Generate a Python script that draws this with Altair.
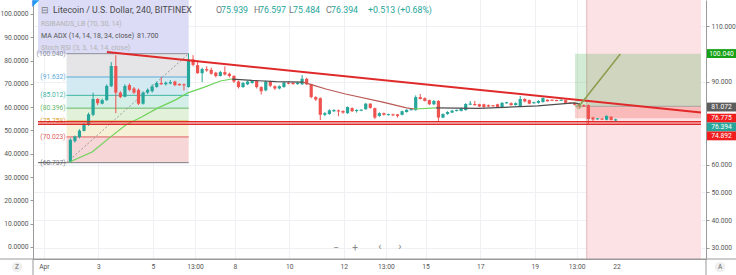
import json
import altair as alt
import pandas as pd

FONT = "Roboto"

# ---------------- data ----------------
# 4-hour candles, day = days since Apr 1 00:00
first_candle_day = 0.97
candle_step_days = 1 / 6

candle_open = [61.0, 68.5, 70.0, 72.2, 74.3, 78.0, 83.7, 82.0, 83.3, 88.3,
               95.6, 86.0, 84.5, 88.7, 87.5, 87.0, 82.0, 86.0, 86.5, 88.0,
               89.5, 89.0, 89.3, 90.0, 89.0, 89.0, 88.0, 98.0, 95.9, 93.0,
               94.5, 94.2, 93.2, 92.0, 93.4, 92.8, 92.0, 90.0, 88.0, 89.0,
               89.5, 90.3, 88.0, 86.8, 90.0, 88.3, 87.5, 88.0, 89.6, 89.4,
               89.2, 89.0, 91.0, 89.0, 84.4, 84.0, 78.0, 78.3, 79.4, 79.6,
               79.4, 78.6, 80.4, 79.5, 79.6, 80.0, 82.0, 80.4, 77.6, 78.6,
               78.0, 78.2, 78.0, 78.0, 79.0, 79.8, 79.7, 84.4, 84.0, 83.3,
               81.8, 83.0, 77.0, 78.3, 78.8, 79.5, 79.4, 79.7, 81.8, 81.9,
               81.8, 81.8, 81.5, 81.3, 81.8, 80.6, 82.3, 82.2, 81.5, 81.0,
               83.7, 83.3, 82.3, 82.3, 82.6, 83.3, 83.3, 83.2, 83.2, 83.3,
               82.3, 82.3, 81.8, 81.5, 81.5, 77.0, 76.5, 76.5, 76.2, 77.3,
               75.939]
candle_high = [69.5, 70.5, 72.8, 75.0, 78.8, 86.0, 84.0, 83.8, 89.0, 97.0,
               99.5, 86.5, 89.0, 89.3, 88.0, 87.5, 86.5, 87.5, 89.0, 90.0,
               91.6, 90.0, 90.5, 90.3, 89.3, 89.3, 100.04, 99.5, 97.7, 95.0,
               95.5, 95.0, 93.5, 93.8, 95.5, 93.2, 92.3, 90.3, 89.8, 90.3,
               90.6, 90.5, 88.3, 90.3, 90.3, 88.6, 88.6, 90.0, 90.0, 89.7,
               89.8, 92.3, 91.3, 89.2, 84.7, 84.3, 79.0, 80.0, 80.0, 79.9,
               79.6, 81.0, 80.7, 80.0, 80.0, 82.3, 82.2, 80.6, 78.9, 78.8,
               78.4, 78.4, 78.2, 79.5, 80.0, 80.2, 85.0, 85.5, 84.3, 83.5,
               83.3, 83.3, 78.5, 79.3, 79.8, 79.9, 80.6, 82.2, 83.0, 83.0,
               82.0, 82.0, 81.7, 81.5, 82.0, 82.6, 82.7, 82.5, 82.5, 84.8,
               84.0, 83.5, 82.7, 83.3, 84.3, 83.5, 83.5, 83.4, 83.5, 83.5,
               82.5, 82.5, 82.0, 81.8, 81.7, 77.3, 76.8, 76.8, 77.8, 77.5,
               76.597]
candle_low = [60.7, 68.0, 69.5, 72.0, 74.0, 77.5, 81.5, 81.8, 83.0, 88.0,
              78.6, 84.0, 84.3, 86.5, 85.5, 81.5, 81.7, 85.5, 86.0, 87.8,
              88.8, 88.6, 89.0, 88.3, 88.5, 86.8, 87.8, 95.5, 92.8, 89.8,
              93.5, 92.5, 91.5, 91.8, 92.2, 91.5, 89.5, 87.5, 87.7, 88.7,
              89.2, 87.5, 85.3, 86.5, 88.0, 87.0, 87.2, 87.8, 89.0, 88.9,
              88.9, 88.8, 88.7, 84.0, 83.0, 76.1, 77.5, 78.0, 79.1, 77.5,
              78.4, 78.3, 79.0, 78.8, 79.3, 79.8, 80.2, 76.5, 77.3, 77.7,
              77.8, 77.5, 77.0, 77.8, 78.8, 79.6, 79.5, 83.5, 82.8, 81.5,
              81.5, 75.8, 76.8, 78.0, 78.6, 79.2, 79.2, 79.5, 81.5, 81.2,
              80.8, 80.5, 80.8, 81.0, 80.5, 80.4, 82.0, 81.3, 81.3, 80.8,
              82.5, 81.8, 82.0, 82.0, 82.4, 82.8, 83.0, 82.9, 83.0, 82.0,
              82.0, 81.3, 80.5, 80.8, 74.3, 75.8, 76.2, 76.2, 76.0, 76.0,
              75.484]
candle_close = [69.0, 70.2, 72.3, 74.5, 78.2, 83.7, 82.2, 83.3, 88.4, 95.6,
                86.0, 84.4, 88.4, 87.0, 86.0, 82.0, 86.0, 87.0, 88.2, 89.5,
                89.0, 89.6, 89.8, 88.7, 88.8, 88.6, 98.0, 96.0, 93.0, 94.5,
                94.0, 92.8, 92.0, 93.4, 92.5, 92.0, 90.0, 88.0, 89.5, 90.0,
                90.3, 88.0, 86.5, 90.0, 88.5, 87.5, 88.3, 89.6, 89.2, 89.2,
                89.4, 91.0, 89.0, 84.4, 83.5, 78.0, 78.6, 79.6, 79.6, 79.2,
                78.8, 80.8, 79.3, 79.6, 79.7, 82.0, 80.5, 77.0, 78.6, 78.0,
                78.1, 77.8, 77.7, 79.3, 79.8, 79.9, 84.4, 83.7, 83.0, 81.8,
                83.0, 77.0, 78.3, 79.0, 79.5, 79.6, 80.3, 81.9, 81.9, 81.5,
                81.0, 80.8, 81.0, 81.2, 80.8, 82.3, 82.4, 81.5, 82.2, 83.7,
                82.8, 82.0, 82.4, 83.0, 84.0, 83.0, 83.2, 83.1, 83.3, 82.3,
                82.2, 81.6, 81.3, 81.0, 76.5, 76.3, 76.6, 76.4, 77.6, 76.1,
                76.394]

# MA ADX line segments (day, value, colour group)
ma_rise1_day = [0.94, 1.77, 2.39, 3.00, 3.58, 4.19, 4.81, 5.28, 5.89, 6.47, 6.90]
ma_rise1_val = [61.0, 64.6, 69.6, 74.3, 77.2, 80.5, 83.3, 85.9, 88.0, 90.2, 90.9]
ma_flat1_day = [6.90, 7.63, 8.53, 9.50]
ma_flat1_val = [90.9, 90.4, 90.0, 89.8]
ma_fall_day = [9.50, 9.87, 10.34, 11.06, 12.43, 13.30, 13.59]
ma_fall_val = [89.8, 88.7, 87.3, 85.5, 82.6, 80.5, 80.1]
ma_rise2_day = [13.59, 14.38]
ma_rise2_val = [80.1, 80.5]
ma_flat2_day = [14.38, 15.94, 18.11, 19.44, 19.66]
ma_flat2_val = [80.5, 80.3, 81.2, 82.3, 81.9]

# Fibonacci retracement
fib_levels = [100.040, 91.632, 85.012, 80.396, 75.758, 70.023, 60.737]
fib_labels = ["(100.040)", "(91.632)", "(85.012)", "(80.396)", "(75.758)", "(70.023)", "(60.737)"]
fib_line_colors = ["#8a8d99", "#5aa9d6", "#3fb5a5", "#67b86a", "#e0a83a", "#e06060", "#7a7d88"]
fib_fill_colors = ["#e5e5e8", "#d4eaf3", "#d3efe7", "#e2f1da", "#f6f1d6", "#f6d6d6"]
fib_start_day, fib_end_day = 0.83, 5.31

# drawings
trend_day = [2.31, 24.1]
trend_val = [100.63, 78.83]
support_levels = [75.45, 74.55]
entry_price, target_price, stop_price = 81.072, 100.040, 76.775
position_start_day = 19.48
highlight_start_day = 19.91
arrow_day = [19.62, 21.14]
arrow_val = [81.0, 99.9]

# right-hand price tags (text, shown position, colour)
tag_text = ["100.040", "81.072", "76.775", "76.394", "74.892"]
tag_pos = [100.09, 80.8, 76.8, 73.6, 70.4]
tag_color = ["#16a216", "#5d5d5d", "#f01e1e", "#26a69a", "#f01e1e"]

x_tick_values = [0, 2, 4, 5.54, 7, 9, 11, 12.54, 14, 16, 18, 19.54, 21]
x_tick_labels = ["Apr", "3", "5", "13:00", "8", "10", "12", "13:00", "15", "17", "19", "13:00", "22"]
left_ticks = [0, 10, 20, 30, 40, 50, 60, 70, 80, 90, 100]
right_ticks = [30, 40, 50, 60, 90, 110]

x_min, x_max = -0.217, 24.1
price_min, price_max = 26.0, 119.4
left_min, left_max = -5.15, 106.0

W, H = 673, 259

# ---------------- scales & axes ----------------
xs = alt.Scale(domain=[x_min, x_max], nice=False, zero=False)
ps = alt.Scale(domain=[price_min, price_max], nice=False, zero=False)
ls = alt.Scale(domain=[left_min, left_max], nice=False, zero=False)

label_expr = "%s[indexof(%s, datum.value)]" % (json.dumps(x_tick_labels), json.dumps(x_tick_values))
xaxis = alt.Axis(values=x_tick_values, labelExpr=label_expr, grid=True, gridColor="#eef0f4",
                 ticks=False, domainColor="#9a9a9a", labelColor="#555555", labelFontSize=6.7,
                 labelFont=FONT, labelPadding=4, title=None, labelFlush=False)
paxis = alt.Axis(orient="right", values=right_ticks, format=".3f", grid=True, gridColor="#eef0f4",
                 tickSize=3, tickColor="#9a9a9a", domainColor="#9a9a9a", labelColor="#555555",
                 labelFontSize=6.7, labelFont=FONT, labelPadding=2, title=None)
laxis = alt.Axis(orient="left", values=left_ticks, format=".4f", grid=False,
                 tickSize=3, tickColor="#9a9a9a", domainColor="#9a9a9a", labelColor="#555555",
                 labelFontSize=6.7, labelFont=FONT, labelPadding=2, title=None)


def X(field):
    return alt.X(field, type="quantitative", scale=xs, axis=xaxis)


def Y(field):
    return alt.Y(field, type="quantitative", scale=ps, axis=paxis)


# ---------------- frames ----------------
n = len(candle_open)
candles = pd.DataFrame({
    "day": [first_candle_day + i * candle_step_days for i in range(n)],
    "o": candle_open, "h": candle_high, "l": candle_low, "c": candle_close,
})

ma_rows = []
for seg, (d, v, g) in enumerate([(ma_rise1_day, ma_rise1_val, "rise"), (ma_flat1_day, ma_flat1_val, "flat"),
                                  (ma_fall_day, ma_fall_val, "fall"), (ma_rise2_day, ma_rise2_val, "rise"),
                                  (ma_flat2_day, ma_flat2_val, "flat")]):
    for dd, vv in zip(d, v):
        ma_rows.append({"day": dd, "val": vv, "seg": seg, "grp": g})
ma_df = pd.DataFrame(ma_rows)

fib_bands = pd.DataFrame({
    "d0": fib_start_day, "d1": fib_end_day,
    "top": fib_levels[:-1], "bot": fib_levels[1:], "fill": fib_fill_colors,
})
fib_lines = pd.DataFrame({"d0": fib_start_day, "d1": fib_end_day, "lvl": fib_levels,
                          "col": fib_line_colors, "lab": fib_labels})

green_c, red_c = "#26a69a", "#ef5350"
updown = alt.condition("datum.c >= datum.o", alt.value(green_c), alt.value(red_c))

layers = []

# highlighted date range
layers.append(alt.Chart(pd.DataFrame({"d0": [highlight_start_day], "d1": [x_max],
                                      "y0": [price_min], "y1": [price_max]}))
              .mark_rect(color="#fde2e5", clip=True)
              .encode(x=X("d0"), x2="d1", y=Y("y0"), y2="y1"))
layers.append(alt.Chart(pd.DataFrame({"d": [highlight_start_day], "y0": [price_min], "y1": [price_max]}))
              .mark_rule(color="#e3b4b8", strokeWidth=1)
              .encode(x=X("d"), y=Y("y0"), y2="y1"))

# lavender box top-left
layers.append(alt.Chart(pd.DataFrame({"d0": [x_min], "d1": [fib_end_day],
                                      "y0": [fib_levels[0]], "y1": [price_max]}))
              .mark_rect(color="#dcdcf6", clip=True)
              .encode(x=X("d0"), x2="d1", y=Y("y0"), y2="y1"))

# fib bands and lines
layers.append(alt.Chart(fib_bands).mark_rect(clip=True)
              .encode(x=X("d0"), x2="d1", y=Y("top"), y2="bot", color=alt.Color("fill:N", scale=None)))
layers.append(alt.Chart(fib_lines).mark_rule(strokeWidth=1)
              .encode(x=X("d0"), x2="d1", y=Y("lvl"), color=alt.Color("col:N", scale=None)))
layers.append(alt.Chart(fib_lines).mark_text(align="right", baseline="middle", dx=-1, fontSize=6.7, font=FONT)
              .encode(x=X("d0"), y=Y("lvl"), text="lab:N", color=alt.Color("col:N", scale=None)))
layers.append(alt.Chart(pd.DataFrame({"d": [x_min, fib_start_day], "v": [fib_levels[-1], fib_levels[-1]]}))
              .mark_line(color="#5a5a5a", strokeWidth=1, clip=True)
              .encode(x=X("d"), y=Y("v")))
layers.append(alt.Chart(pd.DataFrame({"d": [fib_start_day, fib_end_day], "v": [fib_levels[-1], fib_levels[0]]}))
              .mark_line(color="#9a9a9a", strokeWidth=1, strokeDash=[2, 2])
              .encode(x=X("d"), y=Y("v")))

# long position tool
layers.append(alt.Chart(pd.DataFrame({"d0": [position_start_day], "d1": [x_max],
                                      "y0": [entry_price], "y1": [target_price]}))
              .mark_rect(color="#4caf50", opacity=0.25, clip=True)
              .encode(x=X("d0"), x2="d1", y=Y("y0"), y2="y1"))
layers.append(alt.Chart(pd.DataFrame({"d0": [position_start_day], "d1": [x_max],
                                      "y0": [stop_price], "y1": [entry_price]}))
              .mark_rect(color="#f44336", opacity=0.25, clip=True)
              .encode(x=X("d0"), x2="d1", y=Y("y0"), y2="y1"))
layers.append(alt.Chart(pd.DataFrame({"d0": [position_start_day], "d1": [x_max], "y": [entry_price]}))
              .mark_rule(color="#9a9a9a", strokeWidth=0.8)
              .encode(x=X("d0"), x2="d1", y=Y("y")))

# candles
base = alt.Chart(candles)
layers.append(base.mark_rule(strokeWidth=1).encode(x=X("day"), y=Y("l"), y2="h", color=updown))
layers.append(base.transform_calculate(
    bt="max(datum.o, datum.c) + (abs(datum.o - datum.c) < 0.3 ? 0.15 : 0)",
    bb="min(datum.o, datum.c) - (abs(datum.o - datum.c) < 0.3 ? 0.15 : 0)")
    .mark_bar(size=3.2).encode(x=X("day"), y=Y("bt"), y2="bb", color=updown))

# MA ADX line
layers.append(alt.Chart(ma_df).mark_line(strokeWidth=1.2)
              .encode(x=X("day"), y=Y("val"), detail="seg:N", order="day:Q",
                      color=alt.Color("grp:N", scale=alt.Scale(domain=["rise", "flat", "fall"],
                                                               range=["#6fd35a", "#4d4d4d", "#b85a55"]),
                                      legend=None)))

# drawings
layers.append(alt.Chart(pd.DataFrame({"d": trend_day, "v": trend_val}))
              .mark_line(color="#e02a2a", strokeWidth=2, clip=True).encode(x=X("d"), y=Y("v")))
layers.append(alt.Chart(pd.DataFrame({"d0": x_min, "d1": x_max, "v": support_levels}))
              .mark_rule(color="#e02a2a", strokeWidth=1.5).encode(x=X("d0"), x2="d1", y=Y("v")))
layers.append(alt.Chart(pd.DataFrame({"d": arrow_day, "v": arrow_val}))
              .mark_line(color="#8c9c4c", strokeWidth=1.5).encode(x=X("d"), y=Y("v")))
layers.append(alt.Chart(pd.DataFrame({"d": [arrow_day[0]], "v": [arrow_val[0]]}))
              .mark_point(shape="circle", size=18, color="#8c9c4c", strokeWidth=1).encode(x=X("d"), y=Y("v")))

# price tags on the right
tags = pd.DataFrame({"t": tag_text, "p": tag_pos, "col": tag_color})
layers.append(alt.Chart(tags).transform_calculate(top="datum.p + 1.6", bot="datum.p - 1.6")
              .mark_rect().encode(x=alt.value(W + 1), x2=alt.value(W + 30), y=Y("top"), y2="bot",
                                  color=alt.Color("col:N", scale=None)))
layers.append(alt.Chart(tags).mark_text(align="center", baseline="middle", fontSize=6.7, font=FONT, color="white")
              .encode(x=alt.value(W + 15.5), y=Y("p"), text="t:N"))

price_layer = alt.layer(*layers)

left_layer = alt.Chart(pd.DataFrame({"v": left_ticks})).mark_point(opacity=0).encode(
    x=alt.value(0), y=alt.Y("v:Q", scale=ls, axis=laxis))

one = pd.DataFrame({"a": [0]})


def label(text, px, py, color, size=8.8, align="left", weight="normal"):
    return alt.Chart(one).mark_text(text=text, align=align, baseline="middle", fontSize=size,
                                    color=color, font=FONT, fontWeight=weight).encode(
        x=alt.value(px), y=alt.value(py))


# header legend (pixel positions relative to plot origin)
header = [
    label("◤", -1, 3, "#2196f3", size=9),
    label("⊟", 8, 10, "#777777", size=9),
    label("Litecoin / U.S. Dollar, 240, BITFINEX", 20, 10, "#4a4a4a"),
    label("O", 183, 10, "#777777"), label("75.939", 188, 10, green_c),
    label("H", 221, 10, "#777777"), label("76.597", 226, 10, green_c),
    label("L", 256, 10, "#777777"), label("75.484", 260, 10, green_c),
    label("C", 293, 10, "#777777"), label("76.394", 298, 10, green_c),
    label("+0.513 (+0.68%)", 335, 10, green_c),
    label("RSIBANDS_LB (70, 30, 14)", 8, 24, "#b3b3b3", size=7),
    label("MA ADX (14, 14, 18, 34, close)", 8, 36, "#555555", size=7),
    label("81.700", 104, 36, "#555555", size=7),
    label("Stoch RSI (3, 3, 14, 14, close)", 8, 48, "#b3b3b3", size=7),
    label("−", 303, 248, "#888888", size=10, align="center"),
    label("+", 322, 248, "#888888", size=10, align="center"),
    label("‹", 347, 247, "#888888", size=11, align="center"),
    label("›", 367, 247, "#888888", size=11, align="center"),
]
circles = alt.Chart(pd.DataFrame({"px": [-16, W + 14]})).mark_point(
    filled=True, shape="circle", size=110, color="#eeeeee", opacity=1)
circle_layers = [
    alt.Chart(one).mark_point(filled=True, shape="circle", size=110, color="#efefef", opacity=1)
    .encode(x=alt.value(-16), y=alt.value(267)),
    alt.Chart(one).mark_point(filled=True, shape="circle", size=110, color="#efefef", opacity=1)
    .encode(x=alt.value(W + 14), y=alt.value(267)),
    label("Z", -16, 267, "#666666", size=6.5, align="center"),
    label("A", W + 14, 267, "#666666", size=6.5, align="center"),
]

# axis lines extending below the time axis
frame = [
    alt.Chart(one).mark_rule(color="#9a9a9a").encode(x=alt.value(-33), x2=alt.value(W + 30), y=alt.value(H)),
    alt.Chart(one).mark_rule(color="#9a9a9a").encode(x=alt.value(0), y=alt.value(H), y2=alt.value(H + 16)),
    alt.Chart(one).mark_rule(color="#9a9a9a").encode(x=alt.value(W), y=alt.value(H), y2=alt.value(H + 16)),
]

chart = alt.layer(left_layer, price_layer, *header, *circle_layers, *frame).resolve_scale(
    y="independent").properties(
    width=W, height=H,
    padding={"left": 33, "right": 30, "top": 0, "bottom": 16},
    autosize=alt.AutoSizeParams(type="none"),
    background="white",
).configure_view(stroke=None)

chart.save("out.html", embed_options={"renderer": "svg", "actions": False})
